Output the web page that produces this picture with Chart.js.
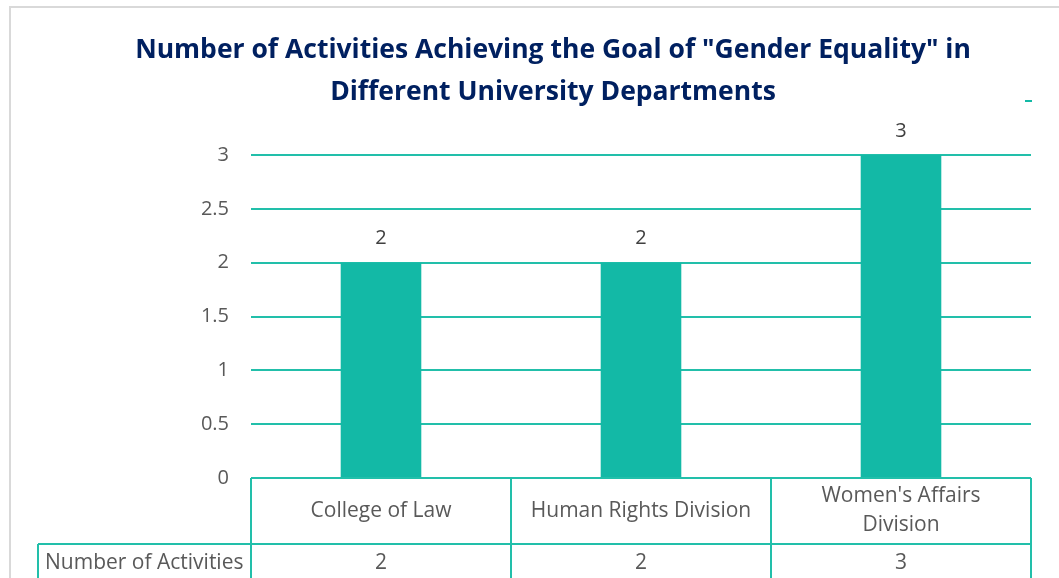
<!DOCTYPE html>
<html lang="en">
<head>
  <meta charset="UTF-8">
  <title>Gender Equality Activities</title>
  <style>
    html, body { margin: 0; padding: 0; background: #fff; }
    canvas { display: block; }
  </style>
</head>
<body>
  <canvas id="barChart" width="1059" height="578"></canvas>

  <script src="https://cdn.jsdelivr.net/npm/chart.js"></script>
  <script>
    // Data
    const categories = ['College of Law', 'Human Rights Division', "Women's Affairs Division"];
    const activityCounts = [2, 2, 3];
    const seriesName = 'Number of Activities';
    const yTicks = [0, 0.5, 1, 1.5, 2, 2.5, 3];
    const titleLines = ['Number of Activities Achieving the Goal of "Gender Equality" in', 'Different University Departments'];

    const teal = '#13B9A6';
    const lineTeal = '#22BFAA';
    const textGray = '#595959';
    const fontFamily = '"Open Sans", "Noto Sans", sans-serif';

    // wrap a label into lines that fit a width
    function wrapText(ctx, text, maxWidth) {
      const words = text.split(' ');
      const lines = [];
      let line = '';
      words.forEach(w => {
        const test = line ? line + ' ' + w : w;
        if (ctx.measureText(test).width > maxWidth && line) {
          lines.push(line);
          line = w;
        } else {
          line = test;
        }
      });
      if (line) lines.push(line);
      return lines;
    }

    // outer frame of the chart box, title and small legend stub
    const framePlugin = {
      id: 'frame',
      beforeDraw(chart) {
        const ctx = chart.ctx;
        ctx.save();
        ctx.strokeStyle = '#D9D9D9';
        ctx.lineWidth = 2;
        ctx.beginPath();
        ctx.moveTo(10, 600);
        ctx.lineTo(10, 7);
        ctx.lineTo(1100, 7);
        ctx.stroke();
        ctx.fillStyle = teal;
        ctx.fillRect(1025, 100, 7, 2);

        // title - centred on the full chart box, which runs past the page edge
        ctx.font = 'bold 26.5px ' + fontFamily;
        ctx.fillStyle = '#002060';
        ctx.textAlign = 'center';
        ctx.textBaseline = 'middle';
        titleLines.forEach((t, i) => ctx.fillText(t, 553, 50 + i * 42));
        ctx.restore();
      }
    };

    // value labels above bars
    const valueLabels = {
      id: 'valueLabels',
      afterDatasetsDraw(chart) {
        const ctx = chart.ctx;
        const meta = chart.getDatasetMeta(0);
        ctx.save();
        ctx.font = '20px ' + fontFamily;
        ctx.fillStyle = '#404040';
        ctx.textAlign = 'center';
        ctx.textBaseline = 'middle';
        meta.data.forEach((bar, i) => {
          ctx.fillText(String(chart.data.datasets[0].data[i]), bar.x, bar.y - 24);
        });
        ctx.restore();
      }
    };

    // data table under the plot
    const dataTable = {
      id: 'dataTable',
      afterDraw(chart) {
        const ctx = chart.ctx;
        const x = chart.scales.x;
        const area = chart.chartArea;
        const n = chart.data.labels.length;
        const cellW = (area.right - area.left) / n;
        const top = area.bottom;
        const rowH = 66;
        const mid = top + rowH;
        const bottom = chart.height + 10;
        const legendLeft = 38;

        ctx.save();
        ctx.strokeStyle = lineTeal;
        ctx.lineWidth = 2;
        ctx.beginPath();
        ctx.moveTo(area.left, top); ctx.lineTo(area.right, top);
        ctx.moveTo(legendLeft, mid); ctx.lineTo(area.right, mid);
        for (let i = 0; i <= n; i++) {
          const vx = area.left + i * cellW;
          ctx.moveTo(vx, top); ctx.lineTo(vx, bottom);
        }
        ctx.moveTo(legendLeft, mid); ctx.lineTo(legendLeft, bottom);
        ctx.stroke();

        ctx.font = '21px ' + fontFamily;
        ctx.fillStyle = textGray;
        ctx.textBaseline = 'middle';
        ctx.textAlign = 'center';
        chart.data.labels.forEach((label, i) => {
          const cx = x.getPixelForValue(i);
          const lines = wrapText(ctx, label, cellW - 30);
          const lh = 29;
          const y0 = top + rowH / 2 - (lines.length - 1) * lh / 2;
          lines.forEach((l, j) => ctx.fillText(l, cx, y0 + j * lh));
          ctx.fillText(String(chart.data.datasets[0].data[i]), cx, mid + 19);
        });
        ctx.textAlign = 'left';
        ctx.fillText(chart.data.datasets[0].label, legendLeft + 7, mid + 19);
        ctx.restore();
      }
    };

    const data = {
      labels: categories,
      datasets: [{
        label: seriesName,
        data: activityCounts,
        backgroundColor: teal,
        borderWidth: 0,
        categoryPercentage: 1,
        barPercentage: 0.31
      }]
    };

    const config = {
      type: 'bar',
      data: data,
      options: {
        responsive: false,
        animation: false,
        layout: {
          padding: { left: 0, right: 28, top: 155, bottom: 0 }
        },
        plugins: {
          legend: { display: false },
          tooltip: { enabled: false },
          title: { display: false }
        },
        scales: {
          x: {
            grid: { display: false },
            border: { display: false },
            ticks: { display: false },
            afterFit(scale) { scale.height = 100; }
          },
          y: {
            min: 0,
            max: 3,
            afterBuildTicks(scale) {
              scale.ticks = yTicks.map(v => ({ value: v }));
            },
            grid: { color: lineTeal, lineWidth: 2, drawTicks: false },
            border: { display: false },
            ticks: {
              color: textGray,
              font: { family: fontFamily, size: 20 },
              padding: 22,
              callback: v => String(v)
            },
            afterFit(scale) { scale.width = 251; }
          }
        }
      },
      plugins: [framePlugin, valueLabels, dataTable]
    };

    const barChart = new Chart(document.getElementById('barChart'), config);
  </script>
</body>
</html>
